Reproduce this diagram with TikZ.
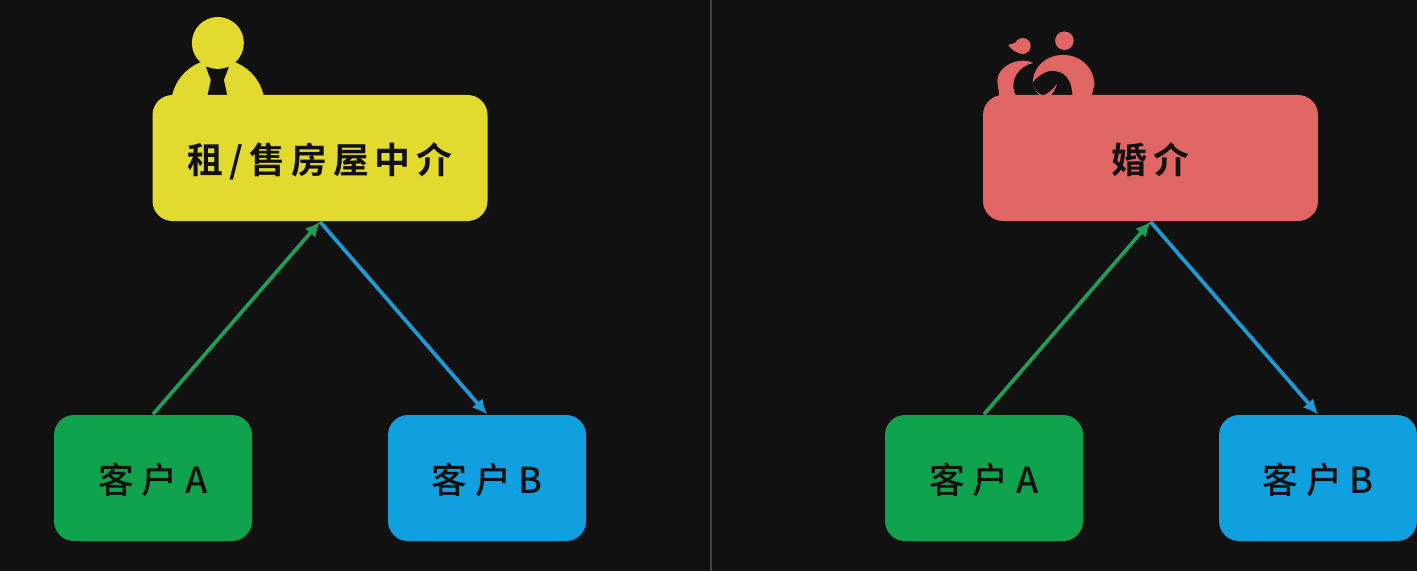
\documentclass[tikz,border=0pt]{standalone}
\usepackage{fontspec}
\setmainfont{Noto Sans CJK SC Medium}
\newfontfamily\agentfont[LetterSpace=17]{Noto Sans CJK SC Bold}
\usetikzlibrary{positioning}
\usetikzlibrary{calc}
\usetikzlibrary{arrows.meta}
\definecolor{bgdark}{HTML}{111111}
\definecolor{agentyellow}{HTML}{E2DA2E}
\definecolor{matchred}{HTML}{E06666}
\definecolor{clientgreen}{HTML}{10A34E}
\definecolor{clientblue}{HTML}{109FDF}
\definecolor{flowgreen}{HTML}{1E9E57}
\definecolor{flowblue}{HTML}{1F9AD6}
\tikzset{
  box/.style={text=bgdark,text height=8.8pt,text depth=0pt,rounded corners=0.2cm,inner sep=0pt,minimum height=1.26cm},
  agent/.style={box,minimum width=3.35cm,font=\fontsize{10.2}{12}\agentfont},
  client/.style={box,minimum width=1.98cm,font=\fontsize{10.2}{12}\selectfont\addfontfeature{LetterSpace=21}},
  to/.style={-{Latex[length=4.2pt,width=4pt]},line width=1.05pt},
  px/.style={x=0.01cm,y=-0.01cm,shift={(0cm,5.71cm)}},
}
\begin{document}
\begin{tikzpicture}
\useasboundingbox (0,0) rectangle (14.17,5.71);
\fill[bgdark] (0,0) rectangle (14.17,5.71);
\draw[gray!45!bgdark,line width=0.3pt] (7.11,0) -- (7.11,5.71);

% left side icon
\begin{scope}[px]
\fill[agentyellow] (218,106) circle (47);
\fill[bgdark] (206,67) -- (229,67) -- (224,80) -- (227.5,96) -- (207.5,96) -- (211,80) -- cycle;
\fill[agentyellow] (218,43) circle (26);
\end{scope}

% right side icon
\begin{scope}[px]
\fill[matchred] (1065,40.7) circle (9.3);
\fill[matchred] (1023.3,46) circle (8);
\fill[matchred] (1009,45) .. controls (1012,50) and (1018,54) .. (1025,54) -- (1018,42) -- cycle;
\fill[matchred] (1033.5,63) .. controls (1020,56) and (997,66) .. (998,82) -- (1000,97) -- (1017,97)
  .. controls (1008,80) and (1020,66) .. (1033.5,63) -- cycle;
\fill[matchred] (1033.3,83) .. controls (1034,66) and (1047,55) .. (1064,55)
  .. controls (1081,55) and (1095,68) .. (1095,85) -- (1092,97) -- (1042,97)
  .. controls (1037,93) and (1034,88) .. (1033.3,83) -- cycle;
\fill[bgdark] (1033.3,83) .. controls (1038,76) and (1046,71) .. (1053,71)
  .. controls (1064,71) and (1072,78) .. (1073,95) -- (1052,95) .. controls (1055,91) and (1057,87) .. (1058,83)
  .. controls (1054,89) and (1050,92) .. (1045,95) -- (1042,95)
  .. controls (1037,92) and (1034,88) .. (1033.3,83) -- cycle;
\end{scope}

\node[agent,fill=agentyellow](rentAgent) at (3.20,4.13){租/售房屋中介};
\node[client,fill=clientgreen](rentA) at (1.53,0.93){客户A};
\node[client,fill=clientblue](rentB) at (4.87,0.93){客户B};
\node[agent,fill=matchred](matchAgent) at (11.505,4.13){婚介};
\node[client,fill=clientgreen](matchA) at (9.84,0.93){客户A};
\node[client,fill=clientblue](matchB) at (13.18,0.93){客户B};

\path
(rentA.north) edge[to,flowgreen]node{} (rentAgent.south)
(rentAgent.south) edge[to,flowblue]node{} (rentB.north)
(matchA.north) edge[to,flowgreen]node{} (matchAgent.south)
(matchAgent.south) edge[to,flowblue]node{} (matchB.north);
\end{tikzpicture}
\end{document}
